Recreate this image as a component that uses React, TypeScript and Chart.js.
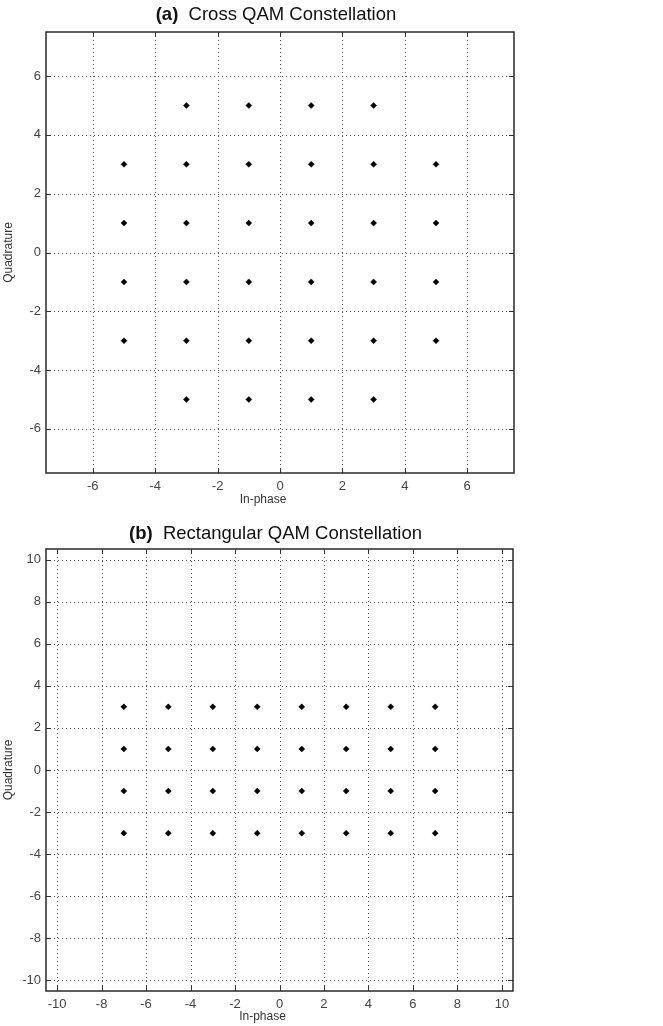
import React, { useEffect, useRef } from "react";
import { Chart, registerables } from "chart.js";

Chart.register(...registerables);

// (a) Cross QAM constellation points
const crossI = [-3, -1, 1, 3, -5, -3, -1, 1, 3, 5, -5, -3, -1, 1, 3, 5, -5, -3, -1, 1, 3, 5, -5, -3, -1, 1, 3, 5, -3, -1, 1, 3];
const crossQ = [5, 5, 5, 5, 3, 3, 3, 3, 3, 3, 1, 1, 1, 1, 1, 1, -1, -1, -1, -1, -1, -1, -3, -3, -3, -3, -3, -3, -5, -5, -5, -5];
const crossTicks = [-6, -4, -2, 0, 2, 4, 6];

// (b) Rectangular QAM constellation points
const rectI = [-7, -5, -3, -1, 1, 3, 5, 7, -7, -5, -3, -1, 1, 3, 5, 7, -7, -5, -3, -1, 1, 3, 5, 7, -7, -5, -3, -1, 1, 3, 5, 7];
const rectQ = [3, 3, 3, 3, 3, 3, 3, 3, 1, 1, 1, 1, 1, 1, 1, 1, -1, -1, -1, -1, -1, -1, -1, -1, -3, -3, -3, -3, -3, -3, -3, -3];
const rectTicks = [-10, -8, -6, -4, -2, 0, 2, 4, 6, 8, 10];

const titleA = ["(a)", "Cross QAM Constellation"];
const titleB = ["(b)", "Rectangular QAM Constellation"];
const xTitle = "In-phase";
const yTitle = "Quadrature";

const FONT = "Arial, 'Liberation Sans', sans-serif";

type Cfg = {
  I: number[];
  Q: number[];
  ticks: number[];
  lim: number;
  title: string[];
  height: number;
  top: number;
  right: number;
  xh: number;
  titleY: number;
  xTitleY: number;
};

function makeFramePlugin(cfg: Cfg) {
  return {
    id: "frame",
    beforeDatasetsDraw(chart: any) {
      const { ctx, chartArea: a, scales } = chart;
      const xs = scales.x, ys = scales.y;
      ctx.save();
      ctx.strokeStyle = "#555";
      ctx.lineWidth = 1;
      ctx.setLineDash([1, 3]);
      for (const v of cfg.ticks) {
        const px = Math.round(xs.getPixelForValue(v)) + 0.5;
        ctx.beginPath();
        ctx.moveTo(px, a.top);
        ctx.lineTo(px, a.bottom);
        ctx.stroke();
        const py = Math.round(ys.getPixelForValue(v)) + 0.5;
        ctx.beginPath();
        ctx.moveTo(a.left, py);
        ctx.lineTo(a.right, py);
        ctx.stroke();
      }
      ctx.setLineDash([]);
      ctx.strokeStyle = "#333";
      ctx.lineWidth = 1;
      for (const v of cfg.ticks) {
        const px = Math.round(xs.getPixelForValue(v)) + 0.5;
        ctx.beginPath();
        ctx.moveTo(px, a.bottom);
        ctx.lineTo(px, a.bottom - 5);
        ctx.moveTo(px, a.top);
        ctx.lineTo(px, a.top + 5);
        ctx.stroke();
        const py = Math.round(ys.getPixelForValue(v)) + 0.5;
        ctx.beginPath();
        ctx.moveTo(a.left, py);
        ctx.lineTo(a.left + 5, py);
        ctx.moveTo(a.right, py);
        ctx.lineTo(a.right - 5, py);
        ctx.stroke();
      }
      ctx.strokeStyle = "#2a2a2a";
      ctx.lineWidth = 1.5;
      ctx.strokeRect(a.left, a.top, a.right - a.left, a.bottom - a.top);
      ctx.restore();
    },
    afterDraw(chart: any) {
      const { ctx, chartArea: a } = chart;
      ctx.save();
      ctx.fillStyle = "#111";
      ctx.textBaseline = "middle";
      // title
      const fs = 18.5;
      ctx.font = `bold ${fs}px ${FONT}`;
      const w1 = ctx.measureText(cfg.title[0] + "  ").width;
      ctx.font = `${fs}px ${FONT}`;
      const w2 = ctx.measureText(cfg.title[1]).width;
      const cx = (a.left + a.right) / 2 - 4;
      const x0 = cx - (w1 + w2) / 2;
      ctx.textAlign = "left";
      ctx.font = `bold ${fs}px ${FONT}`;
      ctx.fillText(cfg.title[0], x0, cfg.titleY);
      ctx.font = `${fs}px ${FONT}`;
      ctx.fillText(cfg.title[1], x0 + w1, cfg.titleY);
      // axis titles
      ctx.fillStyle = "#333";
      ctx.font = `12px ${FONT}`;
      ctx.textAlign = "center";
      ctx.fillText(xTitle, (a.left + a.right) / 2 - 17, cfg.xTitleY);
      ctx.translate(9, (a.top + a.bottom) / 2);
      ctx.rotate(-Math.PI / 2);
      ctx.fillText(yTitle, 0, 0);
      ctx.restore();
    },
  };
}

function ConstellationChart({ cfg }: { cfg: Cfg }) {
  const ref = useRef<HTMLCanvasElement>(null);
  useEffect(() => {
    if (!ref.current) return;
    const points = cfg.I.map((x, i) => ({ x, y: cfg.Q[i] }));
    const tickOpts = (pad: number) => ({
      color: "#444",
      font: { size: 13, family: FONT },
      padding: pad,
      autoSkip: false,
      maxRotation: 0,
    });
    const chart = new Chart(ref.current, {
      type: "scatter",
      data: {
        datasets: [
          {
            data: points,
            pointStyle: "rectRot",
            pointRadius: 3,
            backgroundColor: "#000",
            borderColor: "#000",
            borderWidth: 0.5,
          },
        ],
      },
      options: {
        responsive: false,
        animation: false,
        events: [],
        layout: { padding: { top: cfg.top, right: cfg.right, left: 0, bottom: 0 } },
        plugins: { legend: { display: false }, tooltip: { enabled: false }, title: { display: false } },
        scales: {
          x: {
            type: "linear",
            min: -cfg.lim,
            max: cfg.lim,
            afterBuildTicks: (s: any) => {
              s.ticks = cfg.ticks.map((v) => ({ value: v }));
            },
            afterFit: (s: any) => {
              s.height = cfg.xh;
            },
            ticks: tickOpts(6),
            grid: { display: false, drawTicks: false },
            border: { display: false },
          },
          y: {
            type: "linear",
            min: -cfg.lim,
            max: cfg.lim,
            afterBuildTicks: (s: any) => {
              s.ticks = cfg.ticks.map((v) => ({ value: v }));
            },
            afterFit: (s: any) => {
              s.width = 46;
            },
            ticks: tickOpts(5),
            grid: { display: false, drawTicks: false },
            border: { display: false },
          },
        },
      },
      plugins: [makeFramePlugin(cfg)],
    } as any);
    return () => chart.destroy();
  }, [cfg]);
  return (
    <canvas
      ref={ref}
      width={663}
      height={cfg.height}
      style={{ display: "block", width: 663, height: cfg.height }}
    />
  );
}

const cfgA: Cfg = {
  I: crossI,
  Q: crossQ,
  ticks: crossTicks,
  lim: 7.5,
  title: titleA,
  height: 510,
  top: 32,
  right: 149,
  xh: 37,
  titleY: 15,
  xTitleY: 500,
};

const cfgB: Cfg = {
  I: rectI,
  Q: rectQ,
  ticks: rectTicks,
  lim: 10.5,
  title: titleB,
  height: 516,
  top: 39,
  right: 150,
  xh: 35,
  titleY: 24,
  xTitleY: 507,
};

export default function App() {
  return (
    <div style={{ position: "absolute", left: 0, top: 0, width: 663, height: 1026, background: "#fff" }}>
      <ConstellationChart cfg={cfgA} />
      <ConstellationChart cfg={cfgB} />
    </div>
  );
}
